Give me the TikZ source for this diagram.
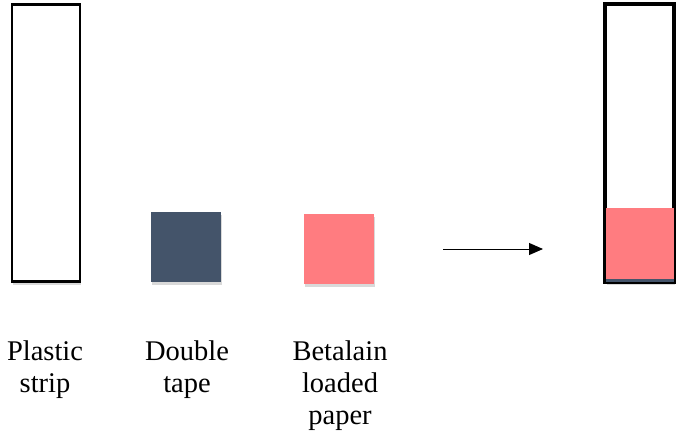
\documentclass[tikz,border=0pt]{standalone}
\usepackage{fontspec}
\setmainfont{Liberation Serif}
\usetikzlibrary{arrows.meta,shadows}
\definecolor{tapeblue}{HTML}{44546A}
\definecolor{paperpink}{HTML}{FF7C80}
\tikzset{
  strip/.style={draw=black, line width=2.5pt, fill=white, inner sep=0pt,
    minimum width=68pt, minimum height=277pt,
    drop shadow={shadow xshift=1pt, shadow yshift=-3pt, opacity=0.3, fill=gray}},
  piece/.style={inner sep=0pt, minimum width=70pt, minimum height=70pt,
    drop shadow={shadow xshift=1pt, shadow yshift=-3pt, opacity=0.3, fill=gray}},
  label/.style={align=center, anchor=base, inner sep=0pt,
    font=\fontsize{28.5}{32}\selectfont}
}
\begin{document}
\begin{tikzpicture}[x=1pt, y=-1pt]
    \useasboundingbox (0,0) rectangle (685,434);
    \node[strip] (plastic) at (46,143) {};
    \node[piece, fill=tapeblue] (tape) at (186,246.5) {};
    \node[piece, fill=paperpink] (paper) at (338.5,249) {};
    \coordinate (from) at (443,249);
    \coordinate (to) at (543,249);
    \draw[->, >={Triangle[length=14pt, width=12pt]}, line width=1pt] (from) -- (to);
    \node[strip] (result) at (639.5,143) {};
    \fill[tapeblue] (605,208) rectangle (674,282);
    \fill[paperpink] (605,208) rectangle (674,279);
    \draw[line width=2.5pt] (result.north west) rectangle (result.south east);
    % labels: base anchor sits on the last line
    \node[label] (plasticlbl) at (45,392) {Plastic\\strip};
    \node[label] (tapelbl) at (187,392) {Double\\tape};
    \node[label] (paperlbl) at (340,424) {Betalain\\loaded\\paper};
  \end{tikzpicture}
\end{document}
